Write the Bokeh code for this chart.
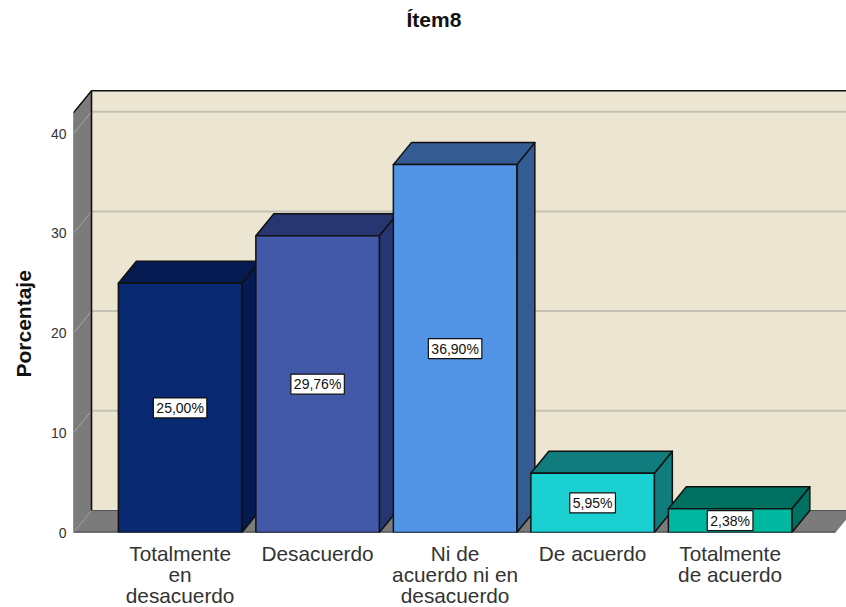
from bokeh.embed import file_html
from bokeh.models import FixedTicker, Range1d, Title
from bokeh.plotting import figure
from bokeh.resources import INLINE
from bokeh.core.properties import value

# Survey responses for the item
categories = ["Totalmente\nen\ndesacuerdo", "Desacuerdo", "Ni de\nacuerdo ni en\ndesacuerdo",
              "De acuerdo", "Totalmente\nde acuerdo"]
percentages = [25.00, 29.76, 36.90, 5.95, 2.38]
y_ticks = [0, 10, 20, 30, 40]
front_colors = ["#082872", "#4159a8", "#5294e6", "#1ad0d0", "#00b8a0"]
shade_colors = ["#051a50", "#273670", "#345c92", "#107c7e", "#007060"]

# Plot geometry
FONT = "Liberation Sans"
PX_PER_X, PX_PER_Y = 137.5, 9.97
LEFT, TOP, FRAME_W, FRAME_H = 73, 35, 773, 497
X_START = (LEFT - 179.6) / PX_PER_X
DX, DY = 18 / PX_PER_X, 22 / PX_PER_Y      # 3D depth in data units
HALF = 0.449                               # half a bar width
WALL_TOP = 42.1
X_END_FRONT = (835 - 179.6) / PX_PER_X

p = figure(width=846, height=607, output_backend="svg", toolbar_location=None,
           x_range=Range1d(X_START, X_START + FRAME_W / PX_PER_X),
           y_range=Range1d(0, FRAME_H / PX_PER_Y),
           frame_width=FRAME_W, frame_height=FRAME_H,
           min_border_left=LEFT, min_border_right=0, min_border_top=TOP, min_border_bottom=75)
p.background_fill_color = "white"
p.border_fill_color = "white"
p.outline_line_color = None
p.grid.visible = False

# Title
p.title.text = "Ítem8"
p.title.text_font = FONT
p.title.text_font_size = "21px"
p.title.text_font_style = "bold"
p.title.text_color = "#111111"
p.title.align = "left"
p.title.offset = 333
p.title.standoff = 10

# Axes
yax = p.yaxis[0]
yax.ticker = FixedTicker(ticks=y_ticks)
yax.axis_line_color = None
yax.major_tick_line_color = None
yax.minor_tick_line_color = None
yax.major_tick_in = 0
yax.major_tick_out = 0
yax.major_label_standoff = 7
yax.major_label_text_font = FONT
yax.major_label_text_font_size = "14px"
yax.major_label_text_color = "#333333"

# The vertical axis title is centred on the side wall, lower than the frame's middle
p.add_layout(Title(text="Porcentaje", align="left", offset=155, standoff=22,
                   vertical_align="top",
                   text_font=FONT, text_font_size="21px", text_font_style="bold",
                   text_color="#111111"), "left")

xs = list(range(len(categories)))
xax = p.xaxis[0]
xax.ticker = FixedTicker(ticks=xs)
xax.major_label_overrides = {i: c for i, c in zip(xs, categories)}
xax.axis_line_color = None
xax.major_tick_line_color = None
xax.minor_tick_line_color = None
xax.major_tick_in = 0
xax.major_tick_out = 0
xax.major_label_standoff = 9
xax.major_label_text_font = FONT
xax.major_label_text_font_size = "20.8px"
xax.major_label_text_color = "#333333"
xax.major_label_text_line_height = 0.92

EDGE = "#111111"
WALL = "#7b7b7b"
GRID = "#c4c0b4"
BACK = "#ebe5d1"

# Back wall, side wall and floor
x_far = X_START + FRAME_W / PX_PER_X + 1
p.patch([X_START + DX, x_far, x_far, X_START + DX],
        [DY, DY, WALL_TOP + DY, WALL_TOP + DY],
        fill_color=BACK, line_color=None)
p.patch([X_START, X_START + DX, X_START + DX, X_START],
        [0, DY, WALL_TOP + DY, WALL_TOP],
        fill_color=WALL, line_color="#444444", line_width=1)
p.patch([X_START, X_END_FRONT, X_END_FRONT + DX, X_START + DX],
        [0, 0, DY, DY], fill_color=WALL, line_color=None)

# Gridlines run along the back wall and fold down the side wall
for t in y_ticks:
    p.line([X_START, X_START + DX], [t, t + DY], line_color="#a8a8a8", line_width=1)
    if t > 0:
        p.line([X_START + DX, x_far], [t + DY, t + DY], line_color=GRID, line_width=2)

p.line([X_START + DX, X_START + DX], [DY, WALL_TOP + DY], line_color=EDGE, line_width=1.6)
p.line([X_START, X_START + DX, x_far], [WALL_TOP, WALL_TOP + DY, WALL_TOP + DY],
       line_color=EDGE, line_width=1.4)
p.line([X_START + DX, x_far], [DY, DY], line_color="#555555", line_width=1)
p.line([X_START, X_END_FRONT], [0, 0], line_color=EDGE, line_width=1.6)

# Bars, left to right so each front covers its neighbour's side
for x, v, fc, sc in zip(xs, percentages, front_colors, shade_colors):
    l, r = x - HALF, x + HALF
    p.patch([r, r + DX, r + DX, r], [0, DY, v + DY, v],
            fill_color=sc, line_color=EDGE, line_width=1.5, line_join="round")
    p.patch([l, r, r + DX, l + DX], [v, v, v + DY, v + DY],
            fill_color=sc, line_color=EDGE, line_width=1.5, line_join="round")
    p.patch([l, r, r, l], [0, 0, v, v],
            fill_color=fc, line_color=EDGE, line_width=1.5, line_join="round")

# Value labels sit at mid height of each bar
for x, v in zip(xs, percentages):
    p.text([x], [v / 2], text=[f"{v:.2f}%".replace(".", ",")],
           text_font=value(FONT), text_font_size="14px", text_color="#111111",
           text_align="center", text_baseline="middle",
           background_fill_color="white", border_line_color="#111111", border_line_width=1.2,
           padding=(3, 2))

open("out.html", "w").write(file_html(p, INLINE))
